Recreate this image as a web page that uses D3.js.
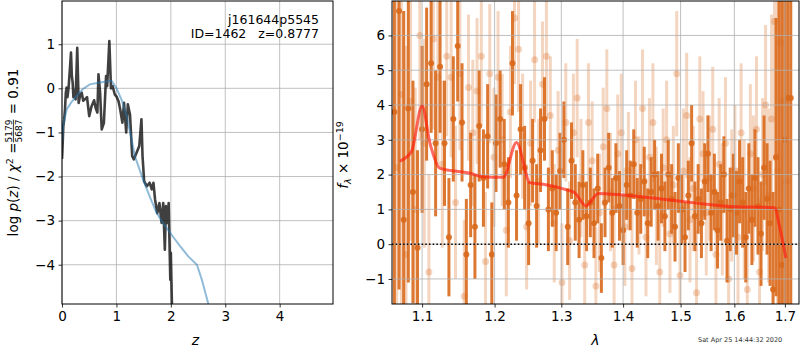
<!DOCTYPE html>
<html>
<head>
<meta charset="utf-8">
<style>
body { margin: 0; background: #fff; }
text { font-family: "DejaVu Sans", sans-serif; fill: #000; }
.grid line { stroke: #b0b0b0; stroke-width: 0.8px; }
</style>
<title></title>
</head>
<body>
<script src="https://cdn.jsdelivr.net/npm/d3@7/dist/d3.min.js"></script>
<script>

// ---- left panel: log p(z) ----
var pzTicksX = [0, 1, 2, 3, 4];
var pzTicksY = [-4, -3, -2, -1, 0, 1];

// smooth template prior curve (blue)
var priorZ  = [0.0, 0.02, 0.086, 0.17, 0.27, 0.38, 0.51, 0.70, 0.91, 1.0, 1.1, 1.19, 1.34, 1.49, 1.62, 1.74, 1.87, 1.99, 2.17, 2.32, 2.48, 2.57, 2.69, 2.75];
var priorLp = [-1.2, -0.85, -0.48, -0.32, -0.17, -0.02, 0.09, 0.13, 0.17, 0.01, -0.28, -0.63, -1.54, -2.07, -2.48, -2.83, -3.08, -3.28, -3.58, -3.81, -4.0, -4.34, -4.89, -5.1];

// noisy p(z) curve (dark)
var pzZ  = [0.0, 0.006, 0.024, 0.04, 0.055, 0.07, 0.086, 0.1, 0.12, 0.147, 0.165, 0.18, 0.196, 0.21, 0.23, 0.25, 0.28, 0.306, 0.33, 0.362, 0.39, 0.42, 0.46, 0.50, 0.54, 0.59, 0.62, 0.65, 0.67, 0.70, 0.73, 0.77, 0.81, 0.83, 0.87, 0.90, 0.93, 0.97, 1.0, 1.04, 1.07, 1.11, 1.14, 1.18, 1.21, 1.25, 1.29, 1.32, 1.37, 1.42, 1.46, 1.48, 1.51, 1.56, 1.61, 1.65, 1.68, 1.71, 1.75, 1.79, 1.83, 1.86, 1.89, 1.91, 1.94, 1.96, 1.99, 2.0, 2.02, 2.03];
var pzLp = [-1.6, -1.46, -0.86, -0.7, -0.48, -0.1, 0.02, -0.2, 0.0, 0.47, 0.81, 0.3, 0.13, -0.2, -0.05, -0.25, 0.92, -0.33, -0.18, -0.1, -0.28, -0.25, -0.2, -0.63, -0.42, -0.27, -0.45, -0.55, 0.32, -0.1, -0.93, -0.78, 0.28, 0.05, 1.07, 0.0, 0.05, -0.14, -0.18, -0.3, -0.48, -0.78, -0.33, -1.0, -0.36, -0.6, -1.54, -1.61, -1.46, -1.31, -0.70, -1.54, -2.11, -2.22, -2.14, -2.29, -2.14, -2.52, -2.83, -2.6, -3.05, -2.6, -3.66, -2.67, -3.05, -2.6, -4.34, -3.73, -4.89, -5.2];

// ---- right panel: spectrum ----
var specTicksX = [1.1, 1.2, 1.3, 1.4, 1.5, 1.6, 1.7];
var specTicksY = [-1, 0, 1, 2, 3, 4, 5, 6];

// dark spectrum (wavelength, flux, error)
var darkLam = [1.064, 1.070, 1.076, 1.082, 1.088, 1.094, 1.100, 1.106, 1.112, 1.118, 1.124, 1.130, 1.136, 1.142, 1.148, 1.154, 1.160, 1.166, 1.172, 1.178, 1.184, 1.190, 1.196, 1.202, 1.208, 1.214, 1.220, 1.226, 1.232, 1.238, 1.244, 1.250, 1.256, 1.262, 1.268, 1.274, 1.280, 1.286, 1.292, 1.298, 1.304, 1.310, 1.316, 1.322, 1.328, 1.334, 1.340, 1.346, 1.352, 1.358, 1.364, 1.370, 1.376, 1.382, 1.388, 1.394, 1.400, 1.406, 1.412, 1.418, 1.424, 1.430, 1.436, 1.442, 1.448, 1.454, 1.460, 1.466, 1.472, 1.478, 1.484, 1.490, 1.496, 1.502, 1.508, 1.514, 1.520, 1.526, 1.532, 1.538, 1.544, 1.550, 1.556, 1.562, 1.568, 1.574, 1.580, 1.586, 1.592, 1.598, 1.604, 1.610, 1.616, 1.622, 1.628, 1.634, 1.640, 1.646, 1.652, 1.658, 1.664, 1.670, 1.676, 1.682, 1.688, 1.694, 1.700, 1.706, 1.712];
var darkFlux = [3.8, 6.7, 0.7, 3.9, 1.5, -0.1, 3.3, 4.6, 5.2, 2.9, 5.1, 2.9, 0.2, 3.6, 5.7, 3.5, -0.3, 1.7, 0.5, 3.4, 1.9, 3.1, -0.3, 2.9, 3.6, 2.3, 1.2, 5.2, 1.4, 3.3, 2.2, 0.6, 2.4, 1.1, 2.7, 3.6, 1.0, 1.6, 0.9, 2.1, 3.0, 0.5, 2.4, 1.2, 0.7, 1.7, 0.8, 1.2, 0.6, 1.6, -0.4, 1.2, 2.2, 0.9, 1.9, 1.1, 0.4, 1.7, 1.4, 2.3, 0.9, 1.3, 1.8, 0.6, 1.5, 2.0, 1.1, 1.6, 0.8, 2.0, 1.3, 0.5, 1.9, 1.0, 0.2, 1.4, 2.9, 0.8, 1.3, 0.6, 1.8, 2.6, 0.9, 1.5, 0.4, 1.2, 2.0, 0.1, 1.0, 1.4, 0.9, 1.8, 1.2, 0.2, 1.6, 0.7, 1.9, 1.1, 0.3, 2.2, 1.3, 0.6, -1.3, 2.5, 1.0, -0.6, 3.0, 4.2, 4.2];
var darkErr = [9, 8, 6, 5, 3.2, 2.8, 2.4, 2.2, 2.0, 2.1, 1.9, 1.8, 1.7, 1.8, 1.6, 1.7, 1.6, 1.5, 1.5, 1.6, 1.4, 1.5, 1.5, 1.4, 1.4, 1.3, 1.3, 1.5, 1.3, 1.3, 1.2, 1.2, 1.2, 1.2, 1.2, 1.2, 1.2, 1.1, 1.1, 1.1, 1.1, 1.1, 1.1, 1.1, 1.1, 1.0, 1.0, 1.0, 1.0, 1.0, 1.0, 1.0, 1.0, 1.0, 1.0, 1.0, 1.0, 1.0, 1.0, 1.0, 1.0, 1.0, 1.0, 1.0, 1.0, 1.0, 1.0, 1.0, 1.0, 1.0, 1.0, 1.0, 1.0, 1.0, 1.0, 1.0, 1.1, 1.0, 1.0, 1.0, 1.1, 1.1, 1.1, 1.1, 1.1, 1.1, 1.1, 1.2, 1.2, 1.2, 1.2, 1.2, 1.3, 1.3, 1.3, 1.3, 1.4, 1.4, 1.5, 1.5, 1.6, 1.8, 2.8, 4, 6, 8, 9, 12, 12];

// light spectrum (second grism order / other PA)
var lightLam = [1.067, 1.073, 1.079, 1.085, 1.091, 1.097, 1.103, 1.109, 1.115, 1.121, 1.127, 1.133, 1.139, 1.145, 1.151, 1.157, 1.163, 1.169, 1.175, 1.181, 1.187, 1.193, 1.199, 1.205, 1.211, 1.217, 1.223, 1.229, 1.235, 1.241, 1.247, 1.253, 1.259, 1.265, 1.271, 1.277, 1.283, 1.289, 1.295, 1.301, 1.307, 1.313, 1.319, 1.325, 1.331, 1.337, 1.343, 1.349, 1.355, 1.361, 1.367, 1.373, 1.379, 1.385, 1.391, 1.397, 1.403, 1.409, 1.415, 1.421, 1.427, 1.433, 1.439, 1.445, 1.451, 1.457, 1.463, 1.469, 1.475, 1.481, 1.487, 1.493, 1.499, 1.505, 1.511, 1.517, 1.523, 1.529, 1.535, 1.541, 1.547, 1.553, 1.559, 1.565, 1.571, 1.577, 1.583, 1.589, 1.595, 1.601, 1.607, 1.613, 1.619, 1.625, 1.631, 1.637, 1.643, 1.649, 1.655, 1.661, 1.667, 1.673, 1.679, 1.685, 1.691, 1.697, 1.703];
var lightFlux = [2.2, 4.3, -0.3, 4.1, 1.0, 6.0, 2.9, -0.8, 5.9, 4.8, 2.3, 5.4, 4.8, 1.2, 4.9, -1.5, 4.5, 3.2, 4.4, 5.4, -0.5, 4.9, 2.5, 4.8, 3.0, 0.4, 3.8, 6.5, 5.6, 3.1, 0.5, 2.9, 5.3, 1.8, 4.6, 5.4, 3.7, 0.6, 2.7, -1.1, 3.5, 0.1, 3.2, 4.2, 1.9, -0.6, 3.5, 2.4, -1.2, 0.9, 2.8, 3.9, 1.5, -0.6, 2.6, 3.2, 0.5, 2.1, -0.7, 3.0, 1.4, 3.9, 0.2, 2.5, 3.5, 1.1, -0.8, 2.2, 3.0, 0.3, 1.7, 4.9, -0.9, 2.1, 3.7, 0.7, 1.6, -1.4, 3.6, 2.6, 0.9, 1.9, 3.3, -0.3, 2.3, 1.0, 2.9, -1.0, 1.4, 2.1, 0.2, 3.2, 1.0, -1.3, 2.6, 1.6, 3.3, -0.8, 2.0, 4.0, 1.4, 3.6, 6.4, 2.1, 5.8, 4.1, 1.8];
var lightErr = [9, 8, 6, 4, 3.5, 3, 3, 2.8, 2.6, 2.5, 2.4, 2.3, 2.3, 2.2, 2.2, 2.2, 2.1, 2.1, 2.1, 2.0, 2.0, 2.0, 2.0, 1.9, 1.9, 1.9, 1.9, 1.9, 1.8, 1.8, 1.8, 1.8, 1.8, 1.8, 1.8, 1.8, 1.7, 1.7, 1.7, 1.7, 1.7, 1.7, 1.7, 1.7, 1.7, 1.7, 1.7, 1.7, 1.7, 1.7, 1.7, 1.7, 1.7, 1.7, 1.7, 1.7, 1.7, 1.7, 1.7, 1.7, 1.7, 1.7, 1.7, 1.7, 1.7, 1.7, 1.7, 1.7, 1.7, 1.7, 1.7, 1.8, 1.8, 1.8, 1.8, 1.8, 1.8, 1.8, 1.8, 1.8, 1.8, 1.8, 1.8, 1.9, 1.9, 1.9, 1.9, 1.9, 1.9, 1.9, 2.0, 2.0, 2.0, 2.0, 2.0, 2.1, 2.1, 2.1, 2.2, 2.3, 2.5, 3, 4, 6, 8, 9, 10];

// best-fit model (red)
var modelLam  = [1.071, 1.086, 1.100, 1.1105, 1.124, 1.165, 1.182, 1.2125, 1.232, 1.252, 1.272, 1.303, 1.321, 1.339, 1.359, 1.400, 1.469, 1.529, 1.591, 1.679, 1.689, 1.702];
var modelFlux = [2.39, 2.66, 3.97, 2.90, 2.18, 2.04, 1.94, 1.92, 2.92, 1.77, 1.72, 1.59, 1.48, 1.10, 1.46, 1.41, 1.29, 1.18, 1.08, 1.05, 0.51, -0.40];

var svg = d3.select("body").append("svg")
    .attr("width", 800)
    .attr("height", 350);

// ================= left panel =================
var L = {x0: 62, x1: 333, y0: 1, y1: 304};
var xz = d3.scaleLinear().domain([0, 4.98]).range([L.x0, L.x1]);
var ylp = d3.scaleLinear().domain([-4.89, 1.98]).range([L.y1, L.y0]);

svg.append("clipPath").attr("id", "clipL")
  .append("rect").attr("x", L.x0).attr("y", L.y0)
  .attr("width", L.x1 - L.x0).attr("height", L.y1 - L.y0);

var gridL = svg.append("g").attr("class", "grid");
pzTicksX.forEach(function(t) {
  gridL.append("line").attr("x1", xz(t)).attr("x2", xz(t)).attr("y1", L.y0).attr("y2", L.y1);
});
pzTicksY.forEach(function(t) {
  gridL.append("line").attr("x1", L.x0).attr("x2", L.x1).attr("y1", ylp(t)).attr("y2", ylp(t));
});

var lineL = d3.line()
    .x(function(d) { return xz(d[0]); })
    .y(function(d) { return ylp(d[1]); });

var gL = svg.append("g").attr("clip-path", "url(#clipL)");

gL.append("path")
    .datum(d3.zip(pzZ, pzLp))
    .attr("d", lineL)
    .style("fill", "none")
    .style("stroke", "#000")
    .style("stroke-opacity", 0.75)
    .style("stroke-width", 2.6)
    .style("stroke-linejoin", "round");

gL.append("path")
    .datum(d3.zip(priorZ, priorLp))
    .attr("d", lineL)
    .style("fill", "none")
    .style("stroke", "#1f77b4")
    .style("stroke-opacity", 0.5)
    .style("stroke-width", 2);

svg.append("g")
    .attr("transform", "translate(0," + L.y1 + ")")
    .call(d3.axisBottom(xz).tickValues(pzTicksX).tickSize(3.5).tickPadding(3.5).tickFormat(d3.format("d")))
    .call(styleAxis);

svg.append("g")
    .attr("transform", "translate(" + L.x0 + ",0)")
    .call(d3.axisLeft(ylp).tickValues(pzTicksY).tickSize(3.5).tickPadding(3.5).tickFormat(d3.format("d")))
    .call(styleAxis);

svg.append("rect")
    .attr("x", L.x0).attr("y", L.y0)
    .attr("width", L.x1 - L.x0).attr("height", L.y1 - L.y0)
    .style("fill", "none").style("stroke", "#000").style("stroke-width", 1);

svg.append("text").attr("x", 319).attr("y", 24)
    .attr("text-anchor", "end").style("font-size", "12.5px")
    .text("j161644p5545");
svg.append("text").attr("x", 319).attr("y", 38)
    .attr("text-anchor", "end").style("font-size", "12.5px")
    .attr("xml:space", "preserve")
    .text("ID=1462   z=0.8777");

svg.append("text").attr("x", xz(2.45)).attr("y", 345)
    .attr("text-anchor", "middle")
    .style("font-size", "14px").style("font-style", "italic")
    .text("z");

// y label with fraction
var yl = svg.append("g").attr("transform", "translate(18,152.5) rotate(-90)");
var t1 = yl.append("text").style("font-size", "13.5px");
t1.append("tspan").text("log ");
t1.append("tspan").style("font-style", "italic").text("p");
t1.append("tspan").text("(");
t1.append("tspan").style("font-style", "italic").text("z");
t1.append("tspan").text(") / ");
t1.append("tspan").style("font-style", "italic").text("χ");
t1.append("tspan").attr("dy", -5.5).style("font-size", "9.5px").text("2");
t1.append("tspan").attr("dy", 5.5).text(" = ");
var w1 = t1.node().getComputedTextLength();
var num = yl.append("text").attr("x", w1).attr("y", -6.5).style("font-size", "9px").text("5179");
var den = yl.append("text").attr("x", w1).attr("y", 4).style("font-size", "9px").text("5687");
var fw = Math.max(num.node().getComputedTextLength(), den.node().getComputedTextLength());
yl.append("line").attr("x1", w1).attr("x2", w1 + fw).attr("y1", -4.6).attr("y2", -4.6)
    .style("stroke", "#000").style("stroke-width", 0.8);
var t3 = yl.append("text").attr("x", w1 + fw + 1).style("font-size", "13.5px")
    .attr("xml:space", "preserve").text(" = 0.91");
var wTot = w1 + fw + 1 + t3.node().getComputedTextLength();
yl.selectAll("text, line").attr("transform", "translate(" + (-wTot / 2) + ",0)");

// ================= right panel =================
var R = {x0: 392, x1: 799, y0: 1, y1: 304};
var xl = d3.scaleLog().domain([1.061, 1.729]).range([R.x0, R.x1]);
var yf = d3.scaleLinear().domain([-1.72, 6.99]).range([R.y1, R.y0]);

svg.append("clipPath").attr("id", "clipR")
  .append("rect").attr("x", R.x0).attr("y", R.y0)
  .attr("width", R.x1 - R.x0).attr("height", R.y1 - R.y0);

var gR = svg.append("g").attr("clip-path", "url(#clipR)");

var orange = "#d9691c";

var light = d3.range(lightLam.length).map(function(i) {
  return {lam: lightLam[i], f: lightFlux[i], e: lightErr[i]};
});
var dark = d3.range(darkLam.length).map(function(i) {
  return {lam: darkLam[i], f: darkFlux[i], e: darkErr[i]};
});

function drawSpec(data, op, r) {
  var g = gR.append("g");
  g.selectAll("line").data(data).enter().append("line")
    .attr("x1", function(d) { return xl(d.lam); })
    .attr("x2", function(d) { return xl(d.lam); })
    .attr("y1", function(d) { return yf(d.f - d.e); })
    .attr("y2", function(d) { return yf(d.f + d.e); })
    .style("stroke", orange).style("stroke-opacity", op).style("stroke-width", 3);
  g.selectAll("circle").data(data).enter().append("circle")
    .attr("cx", function(d) { return xl(d.lam); })
    .attr("cy", function(d) { return yf(d.f); })
    .attr("r", r)
    .style("fill", orange).style("fill-opacity", op);
}
drawSpec(light, 0.28, 3.5);
drawSpec(dark, 0.9, 3);

var gridR = svg.append("g").attr("class", "grid");
specTicksX.forEach(function(t) {
  gridR.append("line").attr("x1", xl(t)).attr("x2", xl(t)).attr("y1", R.y0).attr("y2", R.y1);
});
specTicksY.forEach(function(t) {
  gridR.append("line").attr("x1", R.x0).attr("x2", R.x1).attr("y1", yf(t)).attr("y2", yf(t));
});

var gR2 = svg.append("g").attr("clip-path", "url(#clipR)");
gR2.append("path")
    .datum(d3.zip(modelLam, modelFlux))
    .attr("d", d3.line()
        .x(function(d) { return xl(d[0]); })
        .y(function(d) { return yf(d[1]); })
        .curve(d3.curveMonotoneX))
    .style("fill", "none")
    .style("stroke", "#ff1a0a")
    .style("stroke-opacity", 0.65)
    .style("stroke-width", 3);

gR2.append("line")
    .attr("x1", R.x0).attr("x2", R.x1)
    .attr("y1", yf(0)).attr("y2", yf(0))
    .style("stroke", "#000").style("stroke-width", 1.5)
    .style("stroke-dasharray", "1.5,2.2");

svg.append("g")
    .attr("transform", "translate(0," + R.y1 + ")")
    .call(d3.axisBottom(xl).tickValues(specTicksX).tickSize(3.5).tickPadding(3.5).tickFormat(d3.format(".1f")))
    .call(styleAxis);

svg.append("g")
    .attr("transform", "translate(" + R.x0 + ",0)")
    .call(d3.axisLeft(yf).tickValues(specTicksY).tickSize(3.5).tickPadding(3.5).tickFormat(d3.format("d")))
    .call(styleAxis);

svg.append("rect")
    .attr("x", R.x0).attr("y", R.y0)
    .attr("width", R.x1 - R.x0).attr("height", R.y1 - R.y0)
    .style("fill", "none").style("stroke", "#000").style("stroke-width", 1);

svg.append("text").attr("x", (R.x0 + R.x1) / 2).attr("y", 345)
    .attr("text-anchor", "middle")
    .style("font-size", "14px").style("font-style", "italic")
    .text("λ");

var yr = svg.append("g").attr("transform", "translate(348,155) rotate(-90)");
var tr = yr.append("text").attr("text-anchor", "middle").style("font-size", "13.5px");
tr.append("tspan").style("font-style", "italic").text("f");
tr.append("tspan").attr("dy", 3).style("font-size", "9.5px").style("font-style", "italic").text("λ");
tr.append("tspan").attr("dy", -3).text(" × 10");
tr.append("tspan").attr("dy", -5.5).style("font-size", "9.5px").text("−19");

svg.append("text").attr("x", 698).attr("y", 342)
    .style("font-size", "6.5px").style("fill", "#333")
    .text("Sat Apr 25 14:44:32 2020");

function styleAxis(g) {
  g.select(".domain").remove();
  g.selectAll(".tick line").style("stroke", "#000").style("stroke-width", 0.8);
  g.selectAll(".tick text").style("font-size", "13.5px")
    .style("font-family", "DejaVu Sans, sans-serif").style("fill", "#000");
}

</script>
</body>
</html>
